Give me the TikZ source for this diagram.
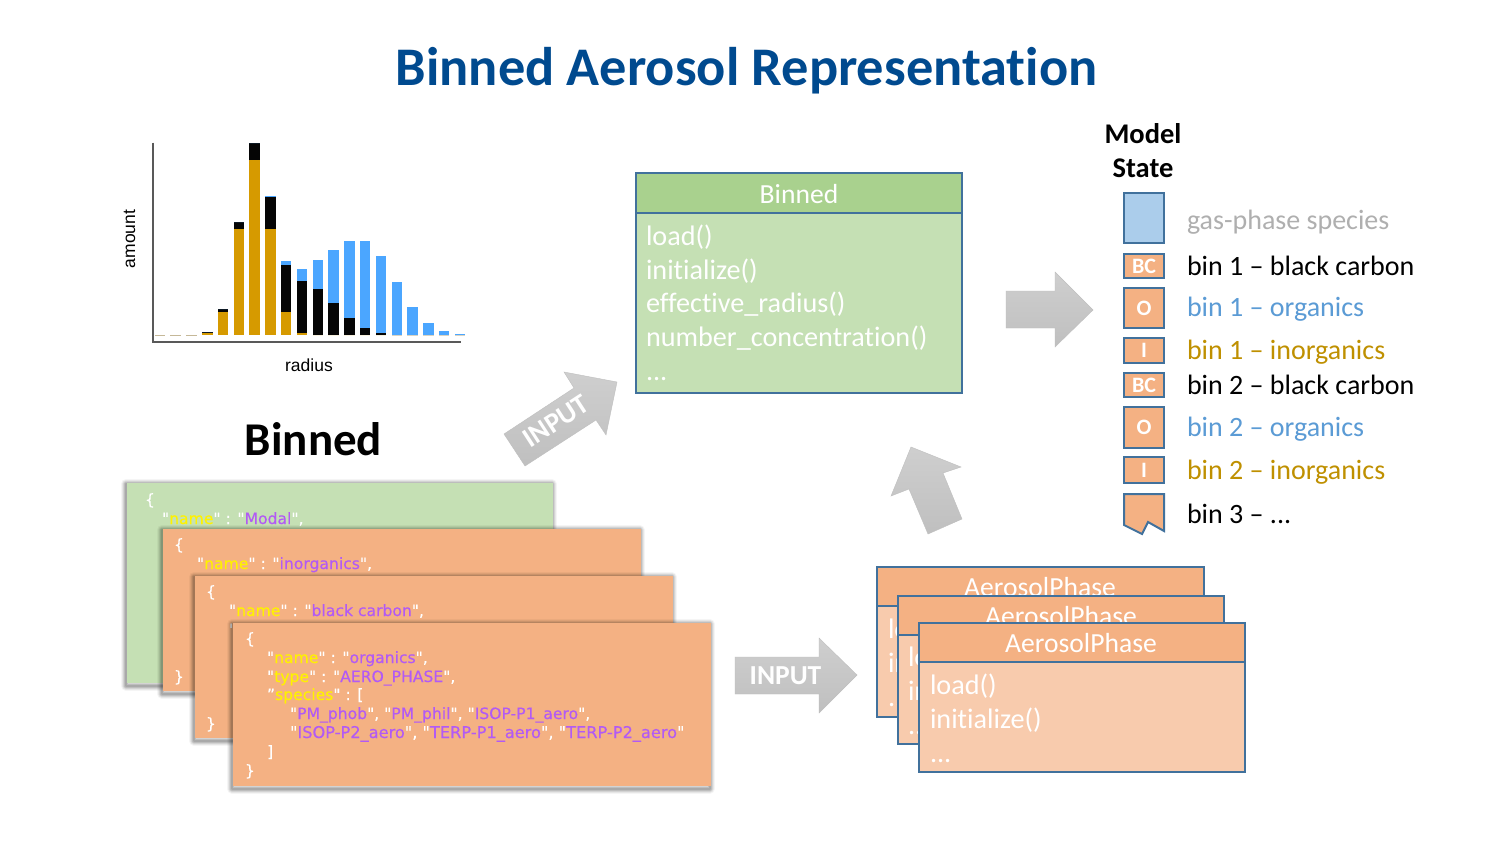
\documentclass[tikz,border=0pt]{standalone}
\usepackage{fontspec}
\setmainfont{Carlito}[RawFeature={-liga}]
\newfontfamily\jsonfont{DejaVu Sans}[FakeBold=0.25]
\newfontfamily\chartfont{Liberation Sans}
\definecolor{titleblue}{HTML}{004A8F}
\definecolor{edgeblue}{HTML}{41719C}
\definecolor{hdrgreen}{HTML}{A9D18E}
\definecolor{bodygreen}{HTML}{C5E0B4}
\definecolor{hdrorange}{HTML}{F4B183}
\definecolor{bodyorange}{HTML}{F8CBAD}
\definecolor{gasblue}{HTML}{ABCDEB}
\definecolor{txtgray}{HTML}{AFAFAF}
\definecolor{txtblue}{HTML}{5B9BD5}
\definecolor{txtgold}{HTML}{BF9000}
\definecolor{barorange}{HTML}{D69A00}
\definecolor{barblack}{HTML}{050505}
\definecolor{barblue}{HTML}{4BA6FF}
\definecolor{jpurple}{HTML}{B25AF5}
\definecolor{axisgray}{HTML}{595959}
\tikzset{
  boxfill/.style={rectangle,inner sep=0pt,outer sep=0pt,line width=2pt,draw=edgeblue},
  jsonsheet/.style={rectangle,inner sep=0pt,outer sep=0pt},
  jtxt/.style={inner sep=0pt,outer sep=0pt,anchor=base west,font=\jsonfont\fontsize{15.6}{16}\selectfont,text=white},
  jlong/.style={jtxt,font=\jsonfont\fontsize{16.2}{16}\selectfont},
  code/.style={inner sep=0pt,outer sep=0pt,anchor=west,text=white,font=\fontsize{28.2}{28}\selectfont},
  hdr/.style={inner sep=0pt,outer sep=0pt,text=white,font=\fontsize{27.6}{28}\selectfont},
  blockarrow/.style={draw=gray!50,line width=.4pt,top color=gray!38,bottom color=gray!50},
  legendtxt/.style={inner sep=0pt,outer sep=0pt,anchor=west,font=\fontsize{28}{28}\selectfont},
  chip/.style={rectangle,inner sep=0pt,outer sep=0pt,line width=2pt,draw=edgeblue,fill=hdrorange},
}
% name, x1, y1, x2, y2, style
\newcommand{\pxbox}[6]{%
  \pgfmathsetmacro{\bw}{#4-#2}\pgfmathsetmacro{\bh}{#5-#3}%
  \node[#6,minimum width=\bw pt,minimum height=\bh pt,anchor=north west] (#1) at (#2,#3) {};}
\newcommand{\softshadow}[4]{%
  \foreach \lw/\op in {10/.04,8/.06,6/.08,4/.10,2/.10}{%
    \draw[black,opacity=\op,line width=\lw pt,line join=round] (#1-1,#2+1) rectangle (#3-1.5,#4+2.5);}%
  }
\begin{document}
\begin{tikzpicture}[x=1pt,y=-1pt]
\useasboundingbox (0,0) rectangle (1499,843);
\fill[white] (0,0) rectangle (1499,843);

\node[inner sep=0pt,text=titleblue,font=\bfseries\fontsize{54.4}{54}\selectfont] (title) at (746.5,71) {Binned Aerosol Representation};

% chart
\begin{scope}[shift={(110,130)},x=.33333pt,y=-.33333pt]
\foreach \i/\a/\b/\c in {
 3/610/606/606, 4/545/538/538, 5/297/276/276, 6/90/38/38, 7/297/202/199,
 8/545/406/394, 9/610/453/417, 10/616/477/391, 11/616/520/361, 12/616/565/333,
 13/616/595/332, 14/616/609/378, 15/616/616/455, 16/616/616/530, 17/616/616/580,
 18/616/616/604, 19/616/616/612}{
  \pgfmathsetmacro{\xl}{134+47.37*\i}
  \fill[barorange] (\xl,616) rectangle (\xl+31.5,\a);
  \fill[barblack] (\xl,\a) rectangle (\xl+31.5,\b);
  \fill[barblue] (\xl,\b) rectangle (\xl+31.5,\c);
}
\foreach \i in {0,1,2}{
  \pgfmathsetmacro{\xl}{134+47.37*\i}
  \fill[barorange!35!gray!60] (\xl,617.5) rectangle (\xl+31.5,615);
}
\draw[axisgray,line width=1.5pt] (129,38) -- (129,636) -- (1052,636);
\end{scope}
\node[inner sep=0pt,rotate=90,font=\chartfont\fontsize{17.5}{17}\selectfont] (amount) at (129.5,239) {amount};
\node[inner sep=0pt,font=\chartfont\fontsize{17.5}{17}\selectfont] (radius) at (309,365) {radius};

\node[inner sep=0pt,font=\bfseries\fontsize{47}{47}\selectfont] (binnedhead) at (313.5,439) {Binned};

% JSON sheets
\softshadow{127}{483}{553}{683}
\pxbox{j1}{127}{483}{553}{683}{jsonsheet,fill=bodygreen}
\node[jtxt] at (145,505) {\{};
\node[jtxt] at (162,524) {"\textcolor{yellow}{name}" : "\textcolor{jpurple}{Modal}",};

\softshadow{163}{529}{641}{691}
\pxbox{j2}{163}{529}{641}{691}{jsonsheet,fill=hdrorange}
\node[jtxt] at (174,550) {\{};
\node[jtxt] at (197,569) {"\textcolor{yellow}{name}" : "\textcolor{jpurple}{inorganics}",};
\node[jtxt] at (197,588) {"\textcolor{yellow}{type}" : "\textcolor{jpurple}{AERO\_PHASE}",};
\node[jtxt] at (174,682) {\}};

\softshadow{195}{576}{673}{738}
\pxbox{j3}{195}{576}{673}{738}{jsonsheet,fill=hdrorange}
\node[jtxt] at (206,597) {\{};
\node[jtxt] at (229,616) {"\textcolor{yellow}{name}" : "\textcolor{jpurple}{black carbon}",};
\node[jtxt] at (229,635) {"\textcolor{yellow}{type}" : "\textcolor{jpurple}{AERO\_PHASE}",};
\node[jtxt] at (206,729) {\}};

\softshadow{233}{623}{711}{786}
\pxbox{j4}{233}{623}{711}{786}{jsonsheet,fill=hdrorange}
\node[jtxt] at (245,644) {\{};
\node[jtxt] at (267,663) {"\textcolor{yellow}{name}" : "\textcolor{jpurple}{organics}",};
\node[jtxt] at (267,682) {"\textcolor{yellow}{type}" : "\textcolor{jpurple}{AERO\_PHASE}",};
\node[jtxt] at (267,700) {”\textcolor{yellow}{species}" : [};
\node[jtxt] at (290,719) {"\textcolor{jpurple}{PM\_phob}", "\textcolor{jpurple}{PM\_phil}", "\textcolor{jpurple}{ISOP-P1\_aero}",};
\node[jlong] at (290,738) {"\textcolor{jpurple}{ISOP-P2\_aero}", "\textcolor{jpurple}{TERP-P1\_aero}", "\textcolor{jpurple}{TERP-P2\_aero}"};
\node[jtxt] at (267,757) {]};
\node[jtxt] at (245,776) {\}};

% block arrows
\draw[blockarrow] (504,434) -- (574,388) -- (564,372) -- (617,382) -- (606,435) -- (596,420) -- (525,466) -- cycle;
\node[inner sep=0pt,rotate=33,text=white,font=\bfseries\fontsize{28}{28}\selectfont] (input1) at (556,421) {INPUT};
\draw[blockarrow] (1006,291) -- (1055,291) -- (1055,272) -- (1093,310) -- (1055,347) -- (1055,328) -- (1006,328) -- cycle;
\draw[blockarrow] (911,447) -- (961,467) -- (943,473) -- (962,519) -- (928,534) -- (909,489) -- (891,496) -- cycle;
\draw[blockarrow] (735,657) -- (819,657) -- (819,638) -- (857,675) -- (819,713) -- (819,694) -- (735,694) -- cycle;
\node[inner sep=0pt,text=white,font=\bfseries\fontsize{27.5}{27}\selectfont] (input2) at (785.5,676) {INPUT};

% Binned class
\pxbox{bbody}{636}{213}{962}{393}{boxfill,fill=bodygreen}
\pxbox{bhead}{636}{173}{962}{213}{boxfill,fill=hdrgreen}
\node[hdr] at (799,194) {Binned};
\node[code] at (646,237) {load()};
\node[code] at (646,271) {initialize()};
\node[code] at (646,304) {effective\_radius()};
\node[code] at (646,338) {number\_concentration()};
\node[code] at (646,379) {...};

% AerosolPhase stack
\pxbox{a1b}{877}{606}{1204}{717}{boxfill,fill=bodyorange}
\pxbox{a1h}{877}{567}{1204}{606}{boxfill,fill=hdrorange}
\node[hdr] at (1040,587) {AerosolPhase};
\node[code] at (888,630) {load()};
\node[code] at (888,664) {initialize()};
\node[code] at (888,705) {...};
\pxbox{a2b}{898}{635}{1224}{744}{boxfill,fill=bodyorange}
\pxbox{a2h}{898}{596}{1224}{635}{boxfill,fill=hdrorange}
\node[hdr] at (1061,616) {AerosolPhase};
\node[code] at (908,658) {load()};
\node[code] at (908,692) {initialize()};
\node[code] at (908,733) {...};
\pxbox{a3b}{919}{662}{1245}{772}{boxfill,fill=bodyorange}
\pxbox{a3h}{919}{623}{1245}{662}{boxfill,fill=hdrorange}
\node[hdr] at (1081,643) {AerosolPhase};
\node[code] at (930,686) {load()};
\node[code] at (930,720) {initialize()};
\node[code] at (930,761) {...};

% Model state legend
\node[inner sep=0pt,align=center,font=\bfseries\fontsize{28.5}{34}\selectfont] (mstate) at (1143,151) {Model\\State};
\pxbox{gas}{1124}{193}{1164}{243}{boxfill,fill=gasblue}
\foreach \nm/\ya/\yb/\tx in {bc1/254/278/BC, o1/288/328/O, i1/338/363/I, bc2/373/397/BC, o2/407/448/O, i2/457/483/I}{
  \pxbox{\nm}{1124}{\ya}{1164}{\yb}{chip}
  \node[inner sep=0pt,text=white,font=\bfseries\fontsize{22}{22}\selectfont] at (\nm.center) {\tx};
}
\draw[line width=2pt,draw=edgeblue,fill=hdrorange,line join=miter] (1124,494) -- (1164,494) -- (1164,531) -- (1148,522) -- (1142,534) -- (1124,525) -- cycle;
\node[legendtxt,text=txtgray] (l0) at (1187,222) {gas-phase species};
\node[legendtxt,text=black] (l1) at (1187,266) {bin 1 – black carbon};
\node[legendtxt,text=txtblue] (l2) at (1187,309) {bin 1 – organics};
\node[legendtxt,text=txtgold] (l3) at (1187,352) {bin 1 – inorganics};
\node[legendtxt,text=black] (l4) at (1187,385) {bin 2 – black carbon};
\node[legendtxt,text=txtblue] (l5) at (1187,429) {bin 2 – organics};
\node[legendtxt,text=txtgold] (l6) at (1187,472) {bin 2 – inorganics};
\node[legendtxt,text=black] (l7) at (1187,514) {bin 3 – ...};
\end{tikzpicture}
\end{document}
